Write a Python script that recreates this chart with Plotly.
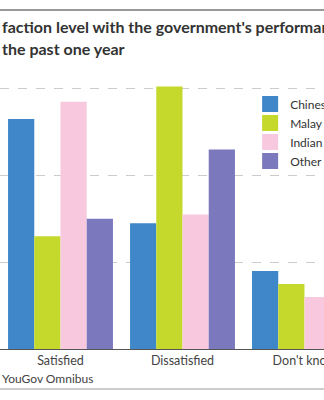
import plotly.graph_objects as go

categories = ["Satisfied", "Dissatisfied", "Don't know"]
series_names = ["Chinese", "Malay", "Indian", "Other"]
chinese = [53, 29, 18]
malay = [26, 60.5, 15]
indian = [57, 31, 12]
other = [30, 46, 24]
colors = ["#3f87c9", "#c5d92c", "#f8c8de", "#7b78be"]
y_ticks = [0, 20, 40, 60]

values = [chinese, malay, indian, other]

fig = go.Figure()
for name, vals, col in zip(series_names, values, colors):
    fig.add_trace(go.Bar(x=categories, y=vals, name=name, marker=dict(color=col, line=dict(width=0)),
                         showlegend=False))
# legend swatches
for name, col in zip(series_names, colors):
    fig.add_trace(go.Scatter(x=[None], y=[None], mode="markers", name=name,
                             marker=dict(symbol="square", size=16, color=col)))

fig.update_layout(
    width=324, height=400,
    margin=dict(l=0, r=0, t=80, b=51, autoexpand=False),
    paper_bgcolor="white", plot_bgcolor="white",
    font=dict(family="Lato", size=12, color="#444"),
    barmode="group", bargap=0.14, bargroupgap=0,
    showlegend=True,
    legend=dict(x=0.772, y=0.965, xanchor="left", yanchor="top", bgcolor="rgba(255,255,255,0)",
                font=dict(family="Lato", size=12, color="#333"), itemsizing="trace",
                tracegroupgap=0),
    xaxis=dict(type="category", range=[-0.496, 2.16], showline=True, linecolor="#555",
               linewidth=1, ticks="", showgrid=False, tickfont=dict(size=12.5, color="#444"),
               fixedrange=True),
    yaxis=dict(range=[0, 62], tickvals=y_ticks, showticklabels=False, showgrid=True,
               gridcolor="#cccccc", griddash="dash", gridwidth=1, zeroline=False,
               showline=False, fixedrange=True),
)

fig.add_annotation(text="faction level with the government's performance", xref="paper", yref="paper",
                   x=0, xanchor="left", y=(349 - 27) / 269, yanchor="middle", showarrow=False,
                   font=dict(family="Lato", size=16, color="#333", weight="bold"))
fig.add_annotation(text="the past one year", xref="paper", yref="paper",
                   x=0, xanchor="left", y=(349 - 48) / 269, yanchor="middle", showarrow=False,
                   font=dict(family="Lato", size=16, color="#333", weight="bold"))
fig.add_annotation(text="YouGov Omnibus", xref="paper", yref="paper",
                   x=0, xanchor="left", y=(349 - 378) / 269, yanchor="middle", showarrow=False,
                   font=dict(family="Lato", size=12, color="#444"))

fig.add_shape(type="line", xref="paper", yref="paper", x0=0, x1=1, y0=(349 - 10) / 269,
              y1=(349 - 10) / 269, line=dict(color="#777", width=1.5))
fig.add_shape(type="line", xref="paper", yref="paper", x0=0, x1=1, y0=(349 - 389) / 269,
              y1=(349 - 389) / 269, line=dict(color="#bbb", width=1.5))

fig.write_html("out.html")
